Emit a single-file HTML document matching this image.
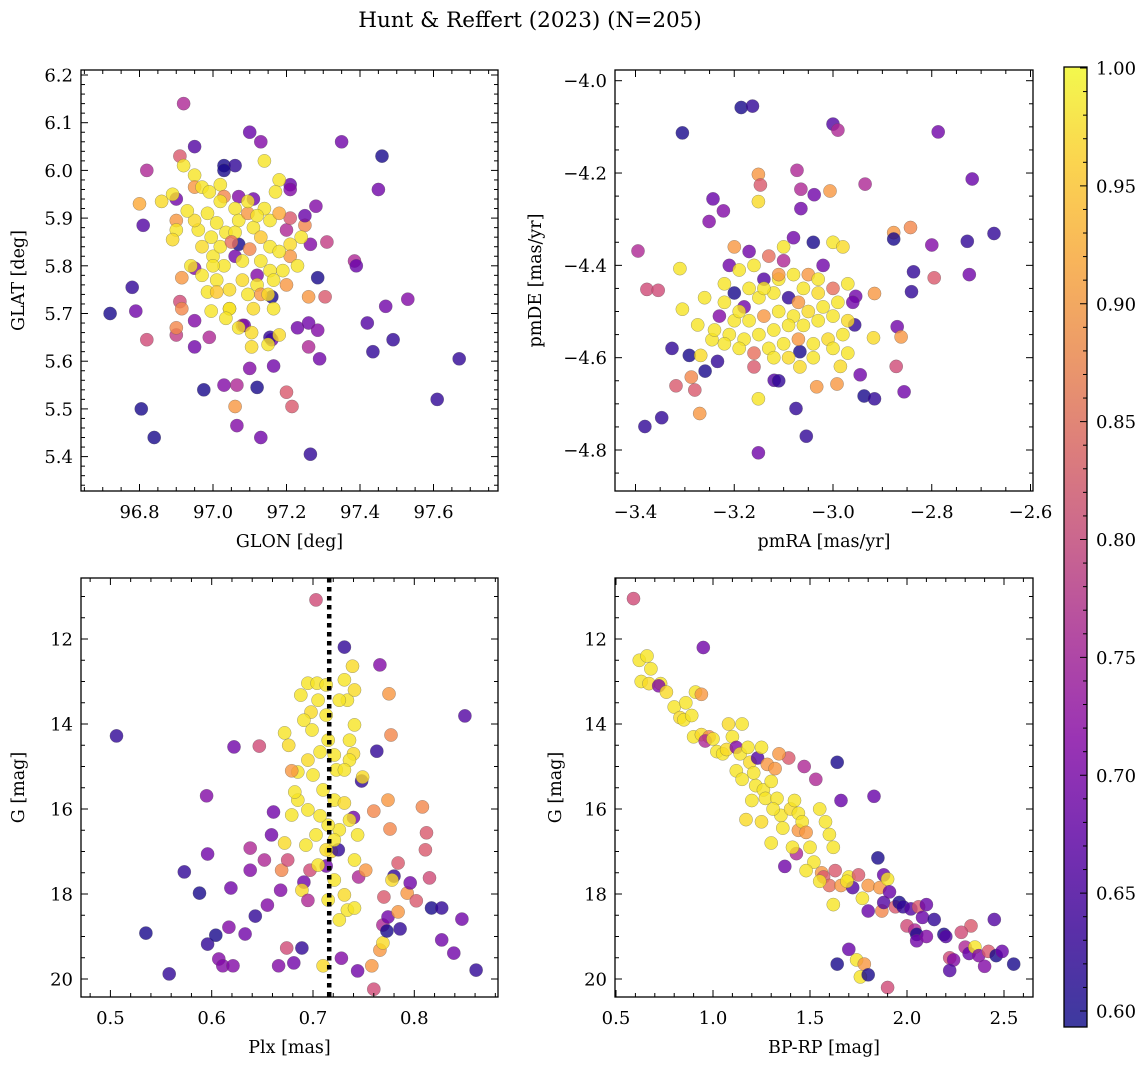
<!DOCTYPE html>
<html><head><meta charset="utf-8">
<style>
html,body{margin:0;padding:0;background:#fff;}
svg{display:block;font-family:"DejaVu Serif","Liberation Serif",serif;}
</style></head>
<body>
<svg id="fig" width="1148" height="1067" viewBox="0 0 1148 1067" xmlns="http://www.w3.org/2000/svg">
<defs>
<linearGradient id="plasma" x1="0" y1="1" x2="0" y2="0">
<stop offset="0" stop-color="#3d3a9f"/>
<stop offset="0.1" stop-color="#5a2fa8"/>
<stop offset="0.2" stop-color="#7a2eb3"/>
<stop offset="0.3" stop-color="#9a34b4"/>
<stop offset="0.4" stop-color="#b24aa4"/>
<stop offset="0.5" stop-color="#c96590"/>
<stop offset="0.6" stop-color="#dc7d7c"/>
<stop offset="0.7" stop-color="#ec9a69"/>
<stop offset="0.8" stop-color="#f8b55a"/>
<stop offset="0.9" stop-color="#fbd44f"/>
<stop offset="1" stop-color="#f3f84d"/>
</linearGradient>
</defs>
<text x="530" y="27" font-size="21.5" text-anchor="middle">Hunt &amp; Reffert (2023) (N=205)</text>
</svg>
<script>
// ---- data (per panel: [x, y, membership probability]) ----
const glonGlat = [[96.92,6.14,.75],[96.95,6.05,.65],[97.10,6.08,.67],[97.13,6.06,.7],[97.35,6.06,.68],[97.46,6.03,.6],[97.45,5.96,.68],[96.82,6.0,.75],[96.91,6.03,.82],[96.92,6.01,.98],[96.95,5.99,.98],[96.95,5.965,.9],[96.97,5.965,.98],[97.02,5.97,.98],[97.03,6.01,.6],[97.06,6.01,.62],[97.03,6.0,.6],[97.14,6.02,.98],[97.21,5.97,.67],[97.21,5.96,.7],[97.18,5.98,.98],[97.17,5.955,.98],[96.90,5.94,.68],[96.89,5.95,.98],[96.86,5.935,.97],[96.80,5.93,.92],[96.81,5.885,.65],[96.90,5.895,.9],[96.90,5.875,.98],[96.89,5.855,.97],[96.78,5.755,.62],[96.915,5.775,.9],[96.95,5.795,.7],[97.0,5.82,.98],[97.03,5.945,.88],[97.07,5.945,.7],[97.11,5.94,.68],[97.14,5.92,.98],[97.06,5.92,.98],[97.07,5.895,.98],[97.095,5.91,.9],[97.07,5.845,.6],[97.06,5.82,.68],[97.12,5.78,.7],[97.16,5.735,.6],[97.16,5.645,.68],[97.155,5.65,.62],[97.20,5.875,.75],[97.21,5.90,.82],[97.25,5.885,.88],[97.25,5.905,.67],[97.28,5.925,.7],[97.265,5.845,.7],[97.31,5.85,.78],[97.21,5.845,.97],[97.21,5.82,.9],[97.285,5.775,.6],[97.26,5.735,.9],[97.305,5.735,.82],[97.385,5.81,.75],[97.39,5.80,.67],[96.79,5.705,.68],[96.91,5.725,.8],[96.915,5.71,.88],[96.95,5.685,.7],[96.995,5.705,.98],[97.045,5.71,.97],[97.08,5.675,.8],[97.085,5.675,.68],[97.105,5.66,.97],[97.15,5.635,.98],[97.18,5.655,.97],[97.23,5.67,.68],[97.26,5.68,.68],[97.285,5.665,.7],[97.29,5.605,.68],[97.26,5.63,.75],[97.42,5.68,.65],[97.435,5.62,.62],[97.47,5.715,.68],[97.53,5.73,.7],[97.49,5.645,.62],[96.72,5.70,.6],[96.82,5.645,.8],[96.90,5.655,.78],[96.95,5.63,.68],[96.90,5.67,.88],[96.99,5.65,.75],[97.105,5.63,.97],[97.10,5.585,.7],[97.165,5.59,.68],[97.67,5.605,.62],[97.61,5.52,.62],[97.03,5.55,.7],[97.065,5.55,.75],[96.975,5.54,.6],[97.12,5.545,.6],[97.06,5.505,.9],[97.215,5.505,.82],[97.20,5.535,.82],[97.065,5.465,.7],[97.13,5.44,.68],[97.265,5.405,.62],[96.805,5.50,.6],[96.84,5.44,.6],
[96.985,5.91,.98],[97.01,5.89,.98],[97.035,5.87,.98],[96.995,5.86,.98],[96.97,5.84,.97],[97.02,5.84,.98],[97.06,5.87,.98],[97.11,5.88,.98],[97.13,5.86,.95],[97.155,5.84,.98],[97.18,5.83,.98],[97.13,5.81,.98],[97.08,5.81,.98],[97.03,5.80,.98],[97.01,5.77,.98],[97.08,5.77,.97],[97.12,5.76,.98],[97.155,5.79,.98],[97.19,5.79,.98],[97.20,5.76,.9],[97.165,5.77,.98],[97.045,5.75,.97],[97.095,5.74,.98],[96.97,5.78,.98],[96.96,5.875,.98],[96.95,5.895,.97],[96.93,5.915,.98],[96.99,5.955,.98],[97.02,5.935,.98],[97.095,5.935,.98],[97.12,5.905,.98],[97.155,5.895,.98],[97.18,5.91,.92],[97.24,5.86,.98],[97.23,5.80,.98],[97.11,5.71,.97],[97.045,5.71,.98],[97.035,5.69,.98],[97.07,5.67,.98],[97.165,5.71,.98],[97.13,5.74,.9],[96.985,5.745,.98],[97.01,5.745,.95],[97.05,5.85,.85],[97.10,5.835,.88],[96.94,5.80,.98],[97.00,5.80,.98],[97.15,5.74,.97]];

const pmraPmde = [[-3.186,-4.058,.6],[-3.163,-4.055,.62],[-3.305,-4.113,.6],[-3.0,-4.094,.65],[-2.99,-4.107,.75],[-2.787,-4.111,.68],[-3.151,-4.203,.9],[-3.147,-4.226,.82],[-3.151,-4.262,.97],[-3.243,-4.256,.67],[-3.251,-4.305,.7],[-3.222,-4.282,.7],[-3.073,-4.194,.75],[-3.065,-4.235,.75],[-3.038,-4.247,.68],[-3.006,-4.239,.9],[-3.065,-4.277,.68],[-2.935,-4.224,.75],[-2.718,-4.213,.67],[-2.843,-4.318,.88],[-2.877,-4.329,.9],[-2.877,-4.343,.6],[-2.8,-4.356,.7],[-2.728,-4.348,.62],[-2.674,-4.331,.62],[-2.724,-4.42,.68],[-2.795,-4.427,.82],[-2.837,-4.414,.62],[-2.841,-4.457,.62],[-3.395,-4.369,.75],[-3.377,-4.452,.8],[-3.354,-4.454,.8],[-3.31,-4.407,.98],[-3.305,-4.495,.98],[-3.326,-4.58,.62],[-3.318,-4.661,.82],[-3.291,-4.595,.6],[-3.287,-4.642,.88],[-3.28,-4.67,.82],[-3.274,-4.529,.98],[-3.268,-4.595,.97],[-3.27,-4.721,.9],[-3.347,-4.73,.62],[-3.381,-4.749,.62],[-3.259,-4.629,.6],[-3.245,-4.561,.98],[-3.234,-4.608,.62],[-3.151,-4.806,.68],[-3.151,-4.689,.98],[-3.054,-4.77,.62],[-3.075,-4.71,.62],[-2.937,-4.683,.6],[-3.033,-4.663,.9],[-2.992,-4.657,.9],[-2.985,-4.619,.97],[-3.119,-4.649,.65],[-3.067,-4.587,.6],[-3.067,-4.62,.97],[-2.918,-4.557,.97],[-2.956,-4.529,.62],[-2.954,-4.467,.68],[-2.916,-4.461,.9],[-2.87,-4.533,.68],[-2.862,-4.555,.9],[-2.872,-4.619,.8],[-2.856,-4.674,.68],[-2.916,-4.689,.62],[-2.945,-4.637,.68],[-3.11,-4.65,.62],
[-3.2,-4.36,.9],[-3.17,-4.37,.68],[-3.21,-4.40,.68],[-3.19,-4.41,.98],[-3.16,-4.40,.98],[-3.13,-4.38,.85],[-3.10,-4.36,.98],[-3.08,-4.34,.68],[-3.04,-4.35,.6],[-3.0,-4.35,.98],[-2.98,-4.36,.97],[-3.02,-4.40,.68],[-3.05,-4.42,.9],[-3.08,-4.42,.98],[-3.11,-4.43,.98],[-3.14,-4.43,.65],[-3.17,-4.45,.98],[-3.20,-4.46,.6],[-3.22,-4.48,.98],[-3.18,-4.49,.68],[-3.15,-4.47,.98],[-3.12,-4.46,.98],[-3.09,-4.47,.62],[-3.06,-4.45,.98],[-3.03,-4.46,.97],[-3.0,-4.45,.85],[-2.97,-4.44,.98],[-2.99,-4.48,.98],[-3.02,-4.49,.98],[-3.05,-4.50,.97],[-3.08,-4.51,.98],[-3.11,-4.50,.98],[-3.14,-4.51,.9],[-3.17,-4.52,.98],[-3.20,-4.52,.98],[-3.23,-4.51,.7],[-3.24,-4.54,.98],[-3.21,-4.55,.98],[-3.18,-4.56,.98],[-3.15,-4.55,.98],[-3.12,-4.54,.98],[-3.09,-4.53,.98],[-3.06,-4.53,.98],[-3.03,-4.52,.98],[-3.0,-4.51,.98],[-2.97,-4.52,.97],[-2.98,-4.55,.98],[-3.01,-4.56,.97],[-3.04,-4.57,.98],[-3.07,-4.56,.9],[-3.10,-4.57,.98],[-3.13,-4.58,.98],[-3.16,-4.59,.85],[-3.19,-4.58,.98],[-3.22,-4.57,.98],[-3.16,-4.62,.82],[-3.12,-4.60,.98],[-3.09,-4.60,.97],[-3.0,-4.58,.98],[-3.04,-4.60,.98],[-2.97,-4.59,.98],[-3.11,-4.42,.9],[-3.14,-4.45,.98],[-3.26,-4.47,.98],[-3.22,-4.44,.98],[-3.19,-4.50,.98],[-3.03,-4.43,.98],[-2.96,-4.48,.68],[-3.07,-4.48,.9],[-3.10,-4.39,.75]];

const plxG = [[0.703,11.08,.8],[0.506,14.28,.62],[0.535,18.92,.6],[0.558,19.88,.62],[0.573,17.48,.62],[0.588,17.98,.6],[0.596,17.06,.68],[0.596,19.18,.62],[0.604,18.97,.6],[0.607,19.53,.7],[0.611,19.69,.7],[0.621,19.69,.7],[0.595,15.69,.7],[0.622,14.54,.68],[0.619,17.86,.68],[0.617,18.78,.7],[0.633,18.94,.68],[0.638,17.44,.7],[0.638,16.92,.75],[0.643,18.52,.62],[0.647,14.52,.8],[0.655,18.26,.7],[0.652,17.2,.75],[0.659,16.61,.68],[0.661,16.07,.68],[0.668,17.91,.7],[0.669,17.44,.88],[0.672,16.8,.97],[0.666,19.69,.7],[0.674,19.27,.8],[0.681,19.62,.68],[0.689,19.27,.62],[0.675,17.2,.8],[0.691,17.72,.68],[0.697,17.44,.8],[0.689,17.91,.97],[0.695,18.15,.75],[0.71,19.69,.97],[0.718,17.0,.97],[0.725,16.96,.62],[0.728,19.51,.7],[0.744,19.81,.68],[0.758,19.69,.9],[0.76,20.24,.8],[0.766,19.32,.9],[0.769,19.15,.97],[0.769,18.73,.75],[0.773,18.87,.6],[0.774,18.54,.68],[0.786,18.82,.62],[0.78,17.58,.62],[0.77,18.07,.82],[0.784,18.42,.9],[0.778,17.67,.97],[0.793,17.98,.9],[0.784,17.27,.82],[0.796,17.74,.68],[0.802,18.16,.82],[0.808,15.95,.88],[0.811,16.96,.82],[0.812,16.56,.82],[0.815,17.62,.8],[0.817,18.33,.6],[0.827,18.33,.62],[0.827,19.08,.68],[0.839,19.39,.68],[0.847,18.59,.68],[0.861,19.79,.62],[0.85,13.81,.65],[0.777,14.26,.88],[0.775,13.29,.9],[0.766,12.61,.7],[0.763,14.64,.62],[0.748,15.34,.62],[0.74,14.7,.97],[0.731,12.19,.62],[0.739,12.64,.97],[0.749,15.25,.97],[0.774,15.79,.9],[0.776,16.47,.88],[0.76,16.05,.88],[0.745,17.6,.75],[0.752,17.44,.9],[0.74,16.2,.68],[0.713,17.34,.68],
[0.688,13.32,.98],[0.695,13.04,.98],[0.704,13.04,.98],[0.713,13.08,.98],[0.705,13.44,.98],[0.698,13.72,.97],[0.691,13.91,.98],[0.699,14.14,.98],[0.713,13.79,.98],[0.715,14.38,.98],[0.707,14.66,.98],[0.695,14.85,.97],[0.685,15.13,.98],[0.7,15.2,.98],[0.71,15.55,.98],[0.721,15.79,.98],[0.731,15.86,.97],[0.736,16.26,.98],[0.726,16.49,.98],[0.715,16.38,.98],[0.703,16.61,.98],[0.693,16.85,.98],[0.721,16.73,.98],[0.713,16.96,.97],[0.705,17.32,.98],[0.695,16.02,.98],[0.707,16.16,.98],[0.685,15.79,.98],[0.679,16.14,.98],[0.723,15.08,.98],[0.736,14.85,.98],[0.741,14.02,.98],[0.734,13.44,.98],[0.731,12.96,.98],[0.726,13.44,.98],[0.741,13.2,.97],[0.736,14.38,.98],[0.721,14.73,.98],[0.731,15.08,.98],[0.744,16.61,.98],[0.741,17.2,.98],[0.721,17.67,.98],[0.731,18.02,.97],[0.734,18.38,.98],[0.726,18.61,.98],[0.741,18.33,.98],[0.715,18.14,.98],[0.672,14.21,.98],[0.676,14.5,.97],[0.682,15.6,.98],[0.679,15.1,.9]];

const bprpG = [[0.59,11.05,.8],[0.62,12.5,.98],[0.66,12.4,.98],[0.68,12.7,.98],[0.63,13.0,.98],[0.67,13.05,.97],[0.73,13.05,.98],[0.72,13.1,.7],[0.76,13.25,.97],[0.80,13.6,.98],[0.86,13.5,.98],[0.83,13.85,.97],[0.85,13.9,.98],[0.89,13.8,.98],[0.91,13.25,.98],[0.94,13.3,.9],[0.95,12.2,.68],[0.90,14.3,.98],[0.94,14.25,.97],[0.98,14.3,.88],[0.96,14.4,.75],[1.00,14.35,.98],[1.02,14.65,.98],[1.05,14.7,.98],[1.07,14.6,.97],[1.10,14.3,.98],[1.12,14.55,.7],[1.15,14.0,.98],[1.08,14.0,.97],[1.14,14.7,.98],[1.18,14.55,.98],[1.19,14.9,.97],[1.23,14.8,.65],[1.25,14.55,.98],[1.21,15.15,.98],[1.22,15.45,.98],[1.26,15.55,.98],[1.28,14.95,.9],[1.30,15.35,.98],[1.32,15.05,.9],[1.27,15.75,.98],[1.33,15.75,.98],[1.35,16.15,.98],[1.36,16.45,.98],[1.40,16.0,.97],[1.42,15.8,.98],[1.44,16.1,.98],[1.39,14.8,.82],[1.37,17.35,.68],[1.43,17.05,.75],[1.44,16.5,.9],[1.46,16.3,.98],[1.48,16.55,.9],[1.47,15.0,.75],[1.53,15.3,.75],[1.55,16.0,.98],[1.50,16.9,.98],[1.52,17.25,.98],[1.56,17.5,.9],[1.58,16.3,.98],[1.60,16.6,.98],[1.62,16.9,.98],[1.64,14.9,.6],[1.66,15.8,.67],[1.57,17.6,.82],[1.60,17.8,.85],[1.63,17.45,.82],[1.66,17.8,.9],[1.70,17.6,.98],[1.72,17.85,.65],[1.69,17.7,.98],[1.75,17.55,.82],[1.77,18.1,.98],[1.80,18.4,.67],[1.80,17.8,.9],[1.83,15.7,.67],[1.85,17.15,.6],[1.86,17.85,.9],[1.87,18.4,.88],[1.88,17.55,.67],[1.88,18.2,.65],[1.90,17.65,.98],[1.91,17.95,.67],[1.94,18.3,.82],[1.96,18.2,.6],[1.98,18.3,.62],[2.00,18.75,.8],[2.02,18.35,.65],[2.04,18.85,.75],[2.05,18.95,.6],[2.06,18.3,.82],[2.08,18.55,.67],[2.10,18.25,.67],[2.14,18.6,.62],[2.19,18.95,.6],[2.20,19.0,.65],[2.22,19.5,.8],[2.24,19.55,.7],[2.22,19.8,.65],[2.05,19.1,.68],[2.10,19.0,.7],[2.30,19.25,.75],[2.32,19.4,.67],[2.33,18.75,.82],[2.35,19.25,.98],[2.37,19.45,.7],[2.40,19.7,.7],[2.42,19.35,.82],[2.45,18.6,.65],[2.46,19.45,.6],[2.49,19.35,.67],[2.55,19.65,.6],[2.28,18.9,.8],[1.64,19.65,.6],[1.70,19.3,.67],[1.74,19.55,.98],[1.76,19.95,.98],[1.78,19.65,.9],[1.80,19.9,.6],[1.90,20.2,.8],[1.17,16.25,.97],[1.12,15.1,.98],[1.15,15.3,.98],[1.20,15.8,.98],[1.25,16.3,.97],[1.30,16.8,.98],[1.31,16.0,.98],[1.41,16.9,.98],[1.34,14.7,.9],[1.48,17.45,.98],[1.62,18.25,.98],[1.55,17.7,.98]];

const plxReference = [0.716];
const glonTicks = [96.8, 97.0, 97.2, 97.4, 97.6];
const glatTicks = [5.4, 5.5, 5.6, 5.7, 5.8, 5.9, 6.0, 6.1, 6.2];
const pmraTicks = [-3.4, -3.2, -3.0, -2.8, -2.6];
const pmdeTicks = [-4.8, -4.6, -4.4, -4.2, -4.0];
const plxTicks = [0.5, 0.6, 0.7, 0.8];
const gTicks = [12, 14, 16, 18, 20];
const bprpTicks = [0.5, 1.0, 1.5, 2.0, 2.5];
const cbarTicks = [0.60, 0.65, 0.70, 0.75, 0.80, 0.85, 0.90, 0.95, 1.00];

// ---- rendering ----
const NS = "http://www.w3.org/2000/svg";
const svg = document.getElementById('fig');
function mk(tag, attrs, parent){const e=document.createElementNS(NS,tag);for(const k in attrs)e.setAttribute(k,attrs[k]);(parent||svg).appendChild(e);return e;}
function lin(d0,d1,r0,r1){return v=>r0+(v-d0)*(r1-r0)/(d1-d0);}

const VMIN=0.593, VMAX=1.0;
// matplotlib plasma samples
const cstops=[[0,[13,8,135]],[0.1,[65,4,157]],[0.2,[106,0,168]],[0.3,[143,13,164]],[0.4,[177,42,144]],[0.5,[204,71,120]],[0.6,[225,100,98]],[0.7,[242,132,75]],[0.8,[252,166,54]],[0.9,[252,206,37]],[1,[240,249,33]]];
function cmap(p){let t=(p-VMIN)/(VMAX-VMIN);t=Math.max(0,Math.min(1,t));
 for(let i=1;i<cstops.length;i++){if(t<=cstops[i][0]){const a=cstops[i-1],b=cstops[i];const f=(t-a[0])/(b[0]-a[0]);
  return 'rgb('+a[1].map((c,j)=>Math.round(c+(b[1][j]-c)*f)).join(',')+')';}}
 return 'rgb(240,249,33)';}

function fmt(v,dec){return v.toFixed(dec).replace('-','\u2212');}

function panel(cfg){
 const g=mk('g',{});
 
 
 const {L,R,T,B}=cfg;
 const xs=cfg.xs, ys=cfg.ys;
 const clipId='clip-'+cfg.name;
 const cp=mk('clipPath',{id:clipId},g); mk('rect',{x:L,y:T,width:R-L,height:B-T},cp);
 const pg=mk('g',{'clip-path':'url(#'+clipId+')'},g);
 
 
 cfg.data.forEach(d=>{
  const c=mk('circle',{cx:xs(d[0]).toFixed(1),cy:ys(d[1]).toFixed(1),r:6.6,fill:cmap(d[2]),'fill-opacity':0.8,stroke:'#555','stroke-opacity':0.55,'stroke-width':0.5},pg);
  
  
 });
 if(cfg.extra) cfg.extra(pg);
 const tg=mk('g',{stroke:'#000','stroke-width':1},g);
 const xmin=Math.min(cfg.xd[0],cfg.xd[1]), xmax=Math.max(cfg.xd[0],cfg.xd[1]);
 const ymin=Math.min(cfg.yd[0],cfg.yd[1]), ymax=Math.max(cfg.yd[0],cfg.yd[1]);
 for(let k=Math.ceil(xmin/cfg.xminor-1e-6);k*cfg.xminor<=xmax+1e-9;k++){const v=k*cfg.xminor;const x=xs(v);if(x<L||x>R)continue;
  const isMaj=Math.abs(v/cfg.xmajor-Math.round(v/cfg.xmajor))<1e-6;const l=isMaj?7:4;
  mk('line',{x1:x,y1:B,x2:x,y2:B-l},tg);mk('line',{x1:x,y1:T,x2:x,y2:T+l},tg);}
 for(let k=Math.ceil(ymin/cfg.yminor-1e-6);k*cfg.yminor<=ymax+1e-9;k++){const v=k*cfg.yminor;const y=ys(v);if(y<T||y>B)continue;
  const isMaj=Math.abs(v/cfg.ymajor-Math.round(v/cfg.ymajor))<1e-6;const l=isMaj?7:4;
  mk('line',{x1:L,y1:y,x2:L+l,y2:y},tg);mk('line',{x1:R,y1:y,x2:R-l,y2:y},tg);}
 mk('rect',{x:L,y:T,width:R-L,height:B-T,fill:'none',stroke:'#000','stroke-width':1.3},g);
 cfg.xticks.forEach(v=>{const t=mk('text',{x:xs(v),y:B+27,'font-size':18,'text-anchor':'middle'},g);t.textContent=fmt(v,cfg.xdec);
  });
 cfg.yticks.forEach(v=>{const t=mk('text',{x:L-8,y:ys(v)+6.5,'font-size':18,'text-anchor':'end'},g);t.textContent=fmt(v,cfg.ydec);
  });
 const xl=mk('text',{x:(L+R)/2,y:B+56,'font-size':17.5,'text-anchor':'middle'},g);xl.textContent=cfg.xlabel;
 
 const yl=mk('text',{x:0,y:0,'font-size':17.5,'text-anchor':'middle',transform:'translate('+cfg.ylx+','+((T+B)/2)+') rotate(-90)'},g);yl.textContent=cfg.ylabel;
 
}

panel({name:'glon-glat-panel',L:81,R:498,T:70,B:491,data:glonGlat,
 xs:lin(97,97.2,213,286.5), ys:lin(6.2,5.4,75,456.6), xd:[96.63,97.78], yd:[5.32,6.22],
 xmajor:0.2,xminor:0.05,ymajor:0.1,yminor:0.02,xticks:glonTicks,yticks:glatTicks,xdec:1,ydec:1,
 xlabel:'GLON [deg]',ylabel:'GLAT [deg]',ylx:24});
panel({name:'proper-motion-panel',L:615,R:1033,T:70,B:491,data:pmraPmde,
 xs:lin(-3,-2.8,833,931.75), ys:lin(-4,-4.8,80.7,450), xd:[-3.48,-2.59], yd:[-4.89,-3.97],
 xmajor:0.2,xminor:0.05,ymajor:0.2,yminor:0.05,xticks:pmraTicks,yticks:pmdeTicks,xdec:1,ydec:1,
 xlabel:'pmRA [mas/yr]',ylabel:'pmDE [mas/yr]',ylx:541});
panel({name:'plx-g-panel',L:81,R:498,T:578,B:997,data:plxG,
 xs:lin(0.5,0.8,110.4,414.3), ys:lin(12,20,639,979), xd:[0.46,0.9], yd:[10.5,20.5],
 xmajor:0.1,xminor:0.02,ymajor:2,yminor:0.5,xticks:plxTicks,yticks:gTicks,xdec:1,ydec:0,
 xlabel:'Plx [mas]',ylabel:'G [mag]',ylx:24,
 extra:(pg)=>{const xs=lin(0.5,0.8,110.4,414.3);plxReference.forEach(v=>{const l=mk('line',{x1:xs(v),y1:578,x2:xs(v),y2:997,stroke:'#000','stroke-width':4.5,'stroke-dasharray':'4.5,4.5'},pg);
  });}});
panel({name:'cmd-panel',L:615,R:1033,T:578,B:997,data:bprpG,
 xs:lin(0.5,2.5,616,1004), ys:lin(12,20,639,979), xd:[0.49,2.67], yd:[10.5,20.5],
 xmajor:0.5,xminor:0.1,ymajor:2,yminor:0.5,xticks:bprpTicks,yticks:gTicks,xdec:1,ydec:0,
 xlabel:'BP-RP [mag]',ylabel:'G [mag]',ylx:561});

(function(){
 const L=1064,R=1087,T=67,B=1027;
 const g=mk('g',{});
 
 
 mk('rect',{x:L,y:T,width:R-L,height:B-T,fill:'url(#plasma)'},g);
 const ys=lin(0.6,1.0,1011,68);
 for(let k=Math.ceil(VMIN*100);k<=100;k++){const v=k/100;const y=ys(v);if(y<T||y>B)continue;const maj=k%5===0;const l=maj?7:4;
  mk('line',{x1:R,y1:y,x2:R-l,y2:y,stroke:'#000','stroke-width':1},g);}
 mk('rect',{x:L,y:T,width:R-L,height:B-T,fill:'none',stroke:'#000','stroke-width':1.3},g);
 cbarTicks.forEach(v=>{const t=mk('text',{x:R+9,y:ys(v)+6.5,'font-size':18},g);t.textContent=v.toFixed(2);
  });
})();
</script>
</body></html>
